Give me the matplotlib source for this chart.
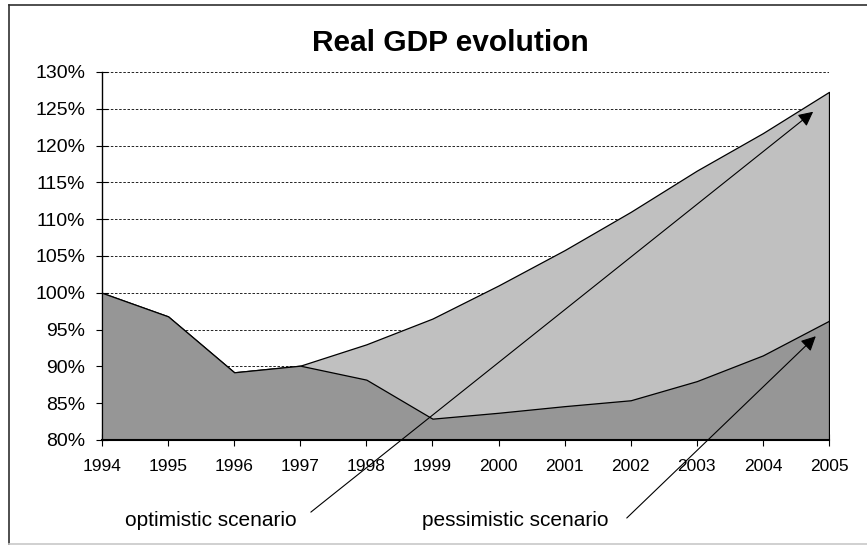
import matplotlib
matplotlib.use('Agg')
import matplotlib.pyplot as plt
from matplotlib.lines import Line2D

plt.rcParams['font.family'] = ['Liberation Sans', 'DejaVu Sans']

# data
years = [1994, 1995, 1996, 1997, 1998, 1999, 2000, 2001, 2002, 2003, 2004, 2005]
optimistic = [100.0, 96.8, 89.2, 90.1, 93.0, 96.5, 101.0, 105.8, 111.0, 116.6, 121.7, 127.3]
pessimistic = [100.0, 96.8, 89.2, 90.1, 88.2, 82.9, 83.7, 84.6, 85.4, 88.0, 91.5, 96.2]
yticks = [80, 85, 90, 95, 100, 105, 110, 115, 120, 125, 130]

# arrows: (text, text end, arrow start, arrow tip)
notes = [
    ('optimistic scenario', (1996.94, 69.0), (1997.16, 70.2), (2004.76, 124.6)),
    ('pessimistic scenario', (2001.66, 69.0), (2001.94, 69.4), (2004.8, 94.1)),
]

fig = plt.figure(figsize=(8.67, 5.45), dpi=100)
# outer chart frame
fig.lines.append(Line2D([9/867, 9/867], [1/545, 540/545], transform=fig.transFigure, color='#303030', lw=1.2))
fig.lines.append(Line2D([9/867, 1], [540/545, 540/545], transform=fig.transFigure, color='#303030', lw=1.2))
fig.lines.append(Line2D([9/867, 1], [1.5/545, 1.5/545], transform=fig.transFigure, color='#c8c8c8', lw=1.2))

ax = fig.add_axes([102/867, 105/545, 727/867, 368/545])

ax.fill_between(years, 80, optimistic, facecolor='#c0c0c0', edgecolor='black', linewidth=0.9, zorder=2)
ax.fill_between(years, 80, pessimistic, facecolor='#969696', edgecolor='black', linewidth=0.9, zorder=3)

ax.set_xlim(years[0], years[-1])
ax.set_ylim(80, 130)
ax.set_xticks(years)
ax.set_yticks(yticks)
ax.set_yticklabels(['%d%%' % v for v in yticks])
ax.yaxis.grid(True, linestyle=(0, (3, 2)), color='black', linewidth=0.6, zorder=1)
ax.set_axisbelow(True)
for s in ['top', 'right']:
    ax.spines[s].set_visible(False)
ax.spines['left'].set_linewidth(1.0)
ax.spines['bottom'].set_linewidth(1.5)
ax.spines['bottom'].set_zorder(5)
ax.tick_params(axis='x', direction='inout', length=9, labelsize=12.5, pad=9.5)
ax.tick_params(axis='y', direction='inout', length=9, labelsize=14, pad=7.5)

ax.set_title('Real GDP evolution', fontsize=21.5, fontweight='bold', pad=15, x=0.479)

for txt, tpos, start, tip in notes:
    ax.text(tpos[0], tpos[1], txt, ha='right', va='center', fontsize=15, clip_on=False)
    ax.annotate('', xy=tip, xytext=start, annotation_clip=False,
                arrowprops=dict(arrowstyle='-|>', color='black', lw=0.8,
                                mutation_scale=22, shrinkA=0, shrinkB=0), zorder=6)

fig.savefig('out.png', dpi=100)
